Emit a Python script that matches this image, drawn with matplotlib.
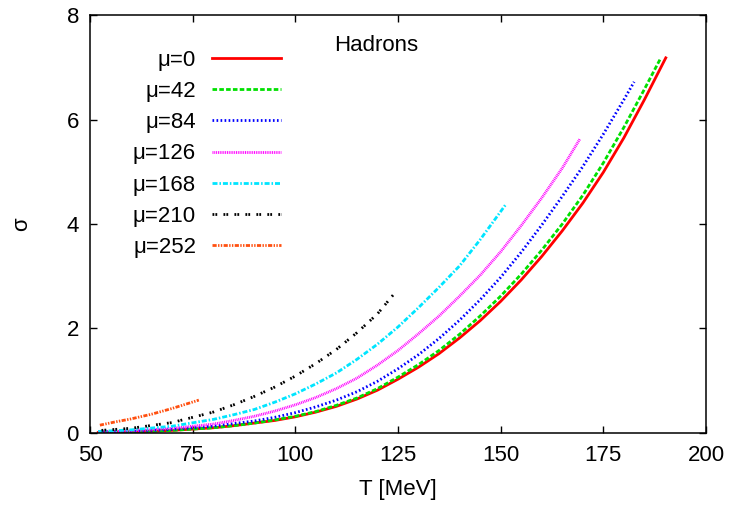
import matplotlib
matplotlib.use('Agg')
import matplotlib.pyplot as plt

plt.rcParams['font.family'] = ['Liberation Sans', 'DejaVu Sans']
plt.rcParams['lines.scale_dashes'] = False

# valores: T [MeV] y sigma
T_mu0 = [52, 60, 70, 80, 85, 90, 95, 100, 105, 110, 115, 120, 125, 130, 135, 140,
         145, 150, 155, 160, 165, 170, 175, 180, 185, 190.2]
s_mu0 = [0.01, 0.02, 0.05, 0.10, 0.14, 0.19, 0.24, 0.31, 0.40, 0.51, 0.65, 0.82,
         1.03, 1.26, 1.52, 1.82, 2.15, 2.52, 2.93, 3.38, 3.87, 4.40, 4.99, 5.65,
         6.38, 7.18]

T_mu42 = [52, 60, 70, 80, 85, 90, 95, 100, 105, 110, 115, 120, 125, 130, 135, 140,
          145, 150, 155, 160, 165, 170, 175, 180, 185, 189.0]
s_mu42 = [0.01, 0.02, 0.05, 0.10, 0.14, 0.19, 0.25, 0.32, 0.41, 0.53, 0.67, 0.85,
          1.07, 1.31, 1.58, 1.89, 2.24, 2.62, 3.04, 3.50, 4.00, 4.55, 5.17, 5.85,
          6.58, 7.18]

T_mu84 = [52, 60, 70, 80, 85, 90, 95, 100, 105, 110, 115, 120, 125, 130, 135, 140,
          145, 150, 155, 160, 165, 170, 175, 180, 182.5]
s_mu84 = [0.02, 0.03, 0.07, 0.13, 0.18, 0.23, 0.30, 0.39, 0.50, 0.63, 0.79, 0.99,
          1.23, 1.50, 1.81, 2.16, 2.55, 2.98, 3.46, 3.98, 4.53, 5.10, 5.72, 6.38,
          6.72]

T_mu126 = [52, 60, 70, 80, 85, 90, 95, 100, 105, 110, 115, 120, 125, 130, 135, 140,
           145, 150, 155, 160, 165, 169.3]
s_mu126 = [0.02, 0.04, 0.09, 0.17, 0.24, 0.32, 0.42, 0.54, 0.68, 0.85, 1.05, 1.30,
           1.58, 1.90, 2.24, 2.62, 3.02, 3.47, 3.97, 4.50, 5.07, 5.63]

T_mu168 = [52, 60, 70, 80, 85, 90, 95, 100, 105, 110, 115, 120, 125, 130, 135, 140,
           145, 151.3]
s_mu168 = [0.03, 0.06, 0.13, 0.26, 0.35, 0.45, 0.59, 0.75, 0.94, 1.15, 1.41, 1.70,
           2.03, 2.40, 2.79, 3.20, 3.70, 4.38]

T_mu210 = [52.8, 60, 70, 80, 85, 90, 95, 100, 105, 110, 115, 120, 123.8]
s_mu210 = [0.05, 0.09, 0.20, 0.40, 0.54, 0.70, 0.88, 1.09, 1.33, 1.60, 1.92, 2.28,
           2.64]

T_mu252 = [52.4, 56, 60, 65, 70, 76.5]
s_mu252 = [0.15, 0.21, 0.27, 0.36, 0.47, 0.63]

etiquetas = ['μ=0', 'μ=42', 'μ=84', 'μ=126', 'μ=168', 'μ=210', 'μ=252']
colores = ['#ff0000', '#00e000', '#0000ff', '#ff00ff', '#00e5ff', '#000000', '#ff5010']
estilos = ['-', (0, (3.3, 1.6)), (0, (1.2, 1.7)), (0, (0.7, 0.6)),
           (0, (3.6, 1.4, 1.1, 1.4)), (0, (1.3, 0.8, 1.3, 4.5)),
           (0, (3.0, 1.0, 1.0, 1.0, 1.0, 1.0))]

series_T = [T_mu0, T_mu42, T_mu84, T_mu126, T_mu168, T_mu210, T_mu252]
series_s = [s_mu0, s_mu42, s_mu84, s_mu126, s_mu168, s_mu210, s_mu252]

fig = plt.figure(figsize=(7.33, 5.12), dpi=100)
ax = fig.add_axes([0.1228, 0.1543, 0.8404, 0.8164])

# curvas
for T, s, lab, c, ls in zip(series_T, series_s, etiquetas, colores, estilos):
    ax.plot(T, s, color=c, linestyle=ls, linewidth=2.0, label=lab)

ax.set_xlim(50, 200)
ax.set_ylim(0, 8)
ax.set_xticks([50, 75, 100, 125, 150, 175, 200])
ax.set_yticks([0, 2, 4, 6, 8])
ax.tick_params(direction='in', length=5, width=1, labelsize=16,
               top=True, right=True)
ax.tick_params(axis='x', pad=9)
ax.tick_params(axis='y', pad=8)
for sp in ax.spines.values():
    sp.set_linewidth(1.1)

ax.set_xlabel('T [MeV]', fontsize=16, labelpad=9)
ax.set_ylabel('σ', fontsize=16, labelpad=25)

# leyenda estilo gnuplot
ax.legend(loc='upper right', bbox_to_anchor=(0.31, 0.917), frameon=False,
          markerfirst=False, fontsize=16, handlelength=3.1,
          handletextpad=0.72, labelspacing=0.46, borderpad=0, borderaxespad=0)
ax.text(0.464, 0.914, 'Hadrons', transform=ax.transAxes, ha='center',
        va='baseline', fontsize=16)

fig.savefig('out.png', dpi=100)
